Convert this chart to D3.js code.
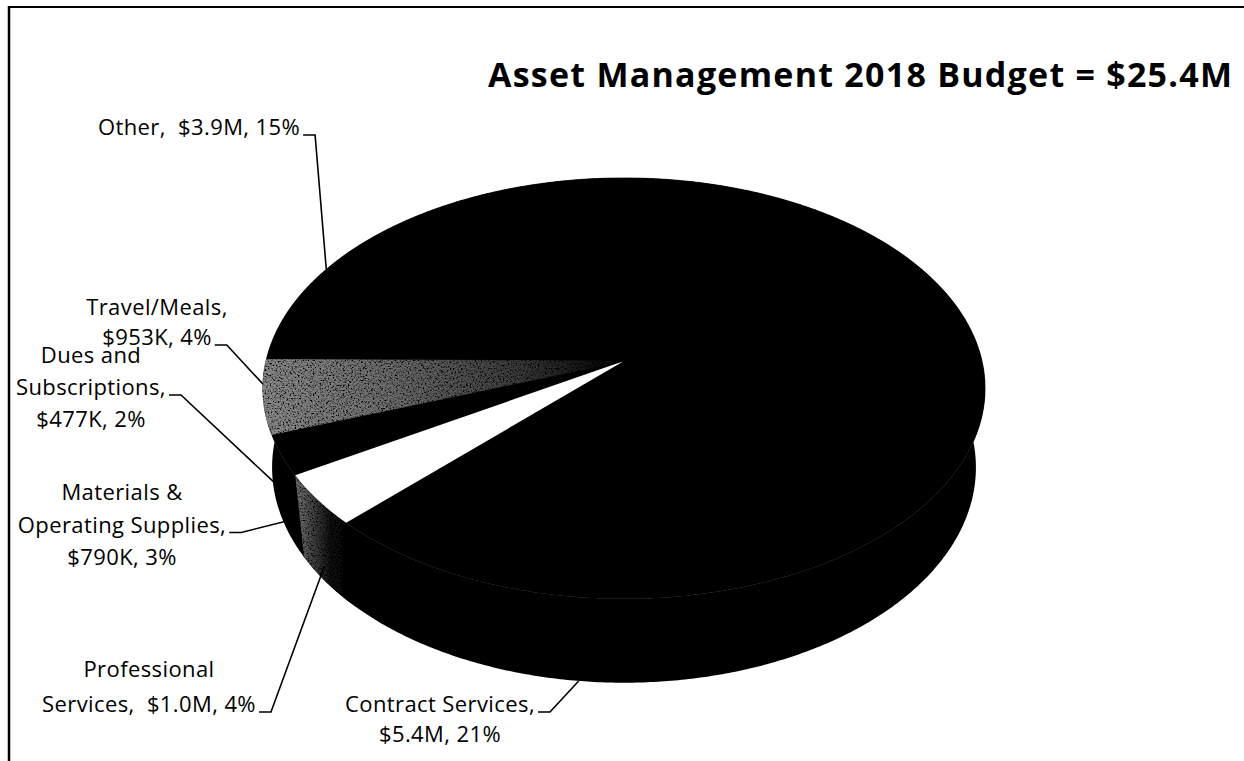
<!DOCTYPE html>
<html>
<head>
<meta charset="utf-8">
<script src="https://cdn.jsdelivr.net/npm/d3@7"></script>
<style>
  html, body { margin: 0; padding: 0; background: #fff; }
  svg { display: block; }
  text { font-family: "Open Sans", "Noto Sans", sans-serif; fill: #000; white-space: pre; }
</style>
</head>
<body>
<svg id="chart" width="1244" height="761"></svg>
<script>
// ---- data: Asset Management 2018 budget by expense line ($M) ----
const chartTitle = "Asset Management 2018 Budget = $25.4M";
// slices in clockwise order; the largest share carries no data label
const categories = ["", "Contract Services", "Professional Services",
  "Materials & Operating Supplies", "Dues and Subscriptions", "Travel/Meals", "Other"];
const values = [12.88, 5.4, 1.0, 0.79, 0.477, 0.953, 3.9];
const valueLabels = ["", "$5.4M", "$1.0M", "$790K", "$477K", "$953K", "$3.9M"];
const percentLabels = ["", "21%", "4%", "3%", "2%", "4%", "15%"];

// ---- styling ----
const BLACK = "#000";
const topFill   = [BLACK, BLACK, "#fff", BLACK, "url(#lightTop)", "url(#lightTop)", BLACK];
const wallFill  = [BLACK, BLACK, "url(#paleWall)", BLACK, BLACK, BLACK, BLACK];
const topGrain  = [false, false, false, false, true, true, false];
const wallGrain = [false, false, true, false, false, false, false];

// label layout: words per line, centre x, first baseline, line gap,
// which line carries the leader, and how far down the wall the leader ends (0 rim, 1 foot)
const labelLayout = [
  null,
  { lines: [2, 2],    x: 440, y: 712, gap: 30,   lead: 0, foot: 1 },
  { lines: [1, 3],    x: 149, y: 677, gap: 35,   lead: 1, foot: 0.8 },
  { lines: [2, 2, 2], x: 122, y: 500, gap: 32.5, lead: 1, foot: 0.8 },
  { lines: [2, 1, 2], x: 91,  y: 363, gap: 32,   lead: 1, foot: 0.75 },
  { lines: [1, 2],    x: 157, y: 315, gap: 30,   lead: 1, foot: 0 },
  { lines: [3],       x: 199, y: 135, gap: 30,   lead: 0, foot: 0 }
];

// ---- tilted, perspective pie geometry ----
const W = 1244, H = 761;
const cx = 624, cy = 361;      // projected pie centre
const F = 358;                 // projected radius
const persp = 0.13;            // perspective strength across the disc
const sinT = 0.578, cosT = 0.816;
const perspH = 0.092;          // perspective change with height
const depth = 0.278;           // pie thickness (in radii)
const startTheta = 124.3 * Math.PI / 180;

function project(theta, r, h) {
  const u = r * Math.cos(theta), v = r * Math.sin(theta);
  const z = 1 + persp * v - perspH * h;
  return [cx + F * u / z, cy - F * (v * sinT + h * cosT) / z];
}

const svg = d3.select("#chart");
const defs = svg.append("defs");

// speckled halftone look for the lighter slices
const grain = defs.append("filter").attr("id", "grain")
  .attr("x", 0).attr("y", 0).attr("width", 1).attr("height", 1);
grain.append("feTurbulence").attr("type", "fractalNoise")
  .attr("baseFrequency", 0.6).attr("numOctaves", 2).attr("seed", 7).attr("result", "noise");
grain.append("feColorMatrix").attr("in", "noise").attr("type", "matrix")
  .attr("values", "0 0 0 0 0  0 0 0 0 0  0 0 0 0 0  3.4 0 0 0 -1.45").attr("result", "dots");
grain.append("feComposite").attr("in", "dots").attr("in2", "SourceGraphic").attr("operator", "atop");

// frame
svg.append("line").attr("x1", 8).attr("y1", 7).attr("x2", W).attr("y2", 7)
  .attr("stroke", "#000").attr("stroke-width", 2);
svg.append("line").attr("x1", 9).attr("y1", 6).attr("x2", 9).attr("y2", H)
  .attr("stroke", "#000").attr("stroke-width", 2.5);

// title
svg.append("text").attr("x", 1232).attr("y", 87)
  .attr("text-anchor", "end").attr("font-weight", 700).attr("font-size", 34)
  .attr("textLength", 744).attr("lengthAdjust", "spacing")
  .text(chartTitle);

const arcs = d3.pie().sort(null).value(d => d)(values).map((a, i) => {
  const t1 = startTheta - a.startAngle, t2 = startTheta - a.endAngle;
  return { i, t1, t2, mid: (t1 + t2) / 2 };
});
const full = { t1: startTheta, t2: startTheta - 2 * Math.PI };

const line = d3.line();
const step = Math.PI / 360;
function rimPoints(t1, t2, h) {
  const n = Math.max(2, Math.ceil(Math.abs(t1 - t2) / step));
  return d3.range(n + 1).map(k => project(t1 + (t2 - t1) * k / n, 1, h));
}
const wallPath = d => line(rimPoints(d.t1, d.t2, 0).concat(rimPoints(d.t2, d.t1, -depth))) + "Z";
const topPath = d => line([[cx, cy]].concat(rimPoints(d.t1, d.t2, 0))) + "Z";

// gradient for the pale tops: light at the rim, fading to dark at the centre
const rimMid = project((arcs[5].t1 + arcs[4].t2) / 2, 1, 0);
const grad = defs.append("linearGradient").attr("id", "lightTop")
  .attr("gradientUnits", "userSpaceOnUse")
  .attr("x1", rimMid[0]).attr("y1", rimMid[1]).attr("x2", cx).attr("y2", cy);
[[0, "#8c8c8c"], [0.35, "#6e6e6e"], [0.7, "#3c3c3c"], [0.95, "#0a0a0a"]].forEach(([o, c]) =>
  grad.append("stop").attr("offset", o).attr("stop-color", c));

// shaded side of the white slice: grey along the outer left edge, darkening to the right
const pw = arcs[2];
const pwLeft = project(pw.t2, 1, -depth / 2), pwRight = project(pw.t1, 1, -depth / 2);
const wallGrad = defs.append("linearGradient").attr("id", "paleWall")
  .attr("gradientUnits", "userSpaceOnUse")
  .attr("x1", pwLeft[0] - 6).attr("y1", 0).attr("x2", pwRight[0]).attr("y2", 0);
[[0, "#7a7a7a"], [0.3, "#4a4a4a"], [0.65, "#111"], [1, "#000"]].forEach(([o, c]) =>
  wallGrad.append("stop").attr("offset", o).attr("stop-color", c));

// the dark slices share one solid body, lighter slices are laid over it
svg.append("path").attr("d", wallPath(full)).attr("fill", BLACK);

const walls = arcs.filter(d => wallFill[d.i] !== BLACK)
  .sort((a, b) => Math.sin(b.mid) - Math.sin(a.mid));
svg.append("g").selectAll("path").data(walls).join("path")
  .attr("d", wallPath)
  .attr("fill", d => wallFill[d.i])
  .attr("filter", d => wallGrain[d.i] ? "url(#grain)" : null);

svg.append("path").attr("d", topPath(full)).attr("fill", BLACK)
  .attr("stroke", BLACK).attr("stroke-width", 0.6);

svg.append("g").selectAll("path").data(arcs.filter(d => topFill[d.i] !== BLACK)).join("path")
  .attr("d", topPath)
  .attr("fill", d => topFill[d.i])
  .attr("stroke", d => topGrain[d.i] ? topFill[d.i] : "none").attr("stroke-width", 0.8)
  .attr("filter", d => topGrain[d.i] ? "url(#grain)" : null);

// data labels with leader lines
const labels = svg.append("g");
arcs.forEach(d => {
  const lay = labelLayout[d.i];
  if (!lay) return;
  const words = categories[d.i].split(" ");
  words[words.length - 1] += ",";
  const tokens = words.concat([" " + valueLabels[d.i] + ",", percentLabels[d.i]]);
  let k = 0;
  const lines = lay.lines.map(n => {
    const s = tokens.slice(k, k + n).join(" ").replace(/^ +/, "");
    k += n;
    return s;
  });
  let leadEnd = null;
  lines.forEach((s, j) => {
    const t = labels.append("text")
      .attr("x", lay.x).attr("y", lay.y + j * lay.gap)
      .attr("text-anchor", "middle").attr("font-size", 22)
      .attr("letter-spacing", 0.4)
      .text(s);
    if (j === lay.lead) {
      const w = t.node().getComputedTextLength();
      leadEnd = [lay.x + w / 2 + 3, lay.y + j * lay.gap];
    }
  });
  const anchor = project(d.mid, 1, -depth * lay.foot);
  labels.append("path")
    .attr("d", line([leadEnd, [leadEnd[0] + 12, leadEnd[1]], anchor]))
    .attr("fill", "none").attr("stroke", "#000").attr("stroke-width", 1.6);
});
</script>
</body>
</html>
